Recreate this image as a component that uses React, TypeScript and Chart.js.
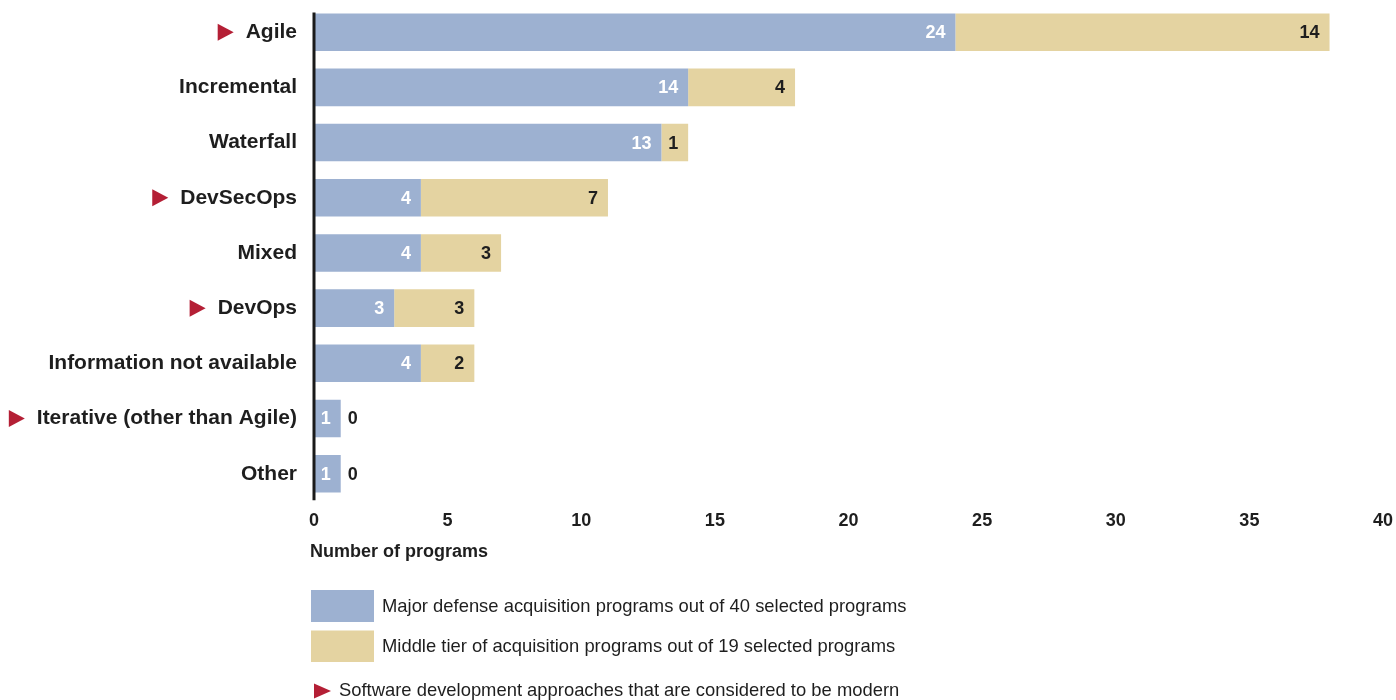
import { useEffect, useRef } from "react";
import { Chart, registerables } from "chart.js";

Chart.register(...registerables);

const categories = [
  "Agile",
  "Incremental",
  "Waterfall",
  "DevSecOps",
  "Mixed",
  "DevOps",
  "Information not available",
  "Iterative (other than Agile)",
  "Other",
];
const modernFlags = [true, false, false, true, false, true, false, true, false];
const majorValues = [24, 14, 13, 4, 4, 3, 4, 1, 1];
const middleValues = [14, 4, 1, 7, 3, 3, 2, 0, 0];
const xTickValues = [0, 5, 10, 15, 20, 25, 30, 35, 40];
const seriesLabels = [
  "Major defense acquisition programs out of 40 selected programs",
  "Middle tier of acquisition programs out of 19 selected programs",
];
const axisTitle = "Number of programs";
const footnoteText = "Software development approaches that are considered to be modern";

const BLUE = "#9db1d1";
const TAN = "#e4d3a1";
const RED = "#b41f35";
const TEXT = "#1e1e1e";
const FONT = "'Liberation Sans', Arial, Helvetica, sans-serif";

function triangle(ctx: CanvasRenderingContext2D, right: number, cy: number, w: number, h: number) {
  ctx.beginPath();
  ctx.moveTo(right - w, cy - h / 2);
  ctx.lineTo(right, cy);
  ctx.lineTo(right - w, cy + h / 2);
  ctx.closePath();
  ctx.fillStyle = RED;
  ctx.fill();
}

const decorPlugin = {
  id: "decor",
  afterDatasetsDraw(chart: any) {
    const ctx: CanvasRenderingContext2D = chart.ctx;
    const area = chart.chartArea;
    const yScale = chart.scales.y;
    ctx.save();

    // vertical axis line
    const m0 = chart.getDatasetMeta(0);
    const firstBar: any = m0.data[0];
    const topY = firstBar.y - firstBar.height / 2 - 1;
    ctx.beginPath();
    ctx.strokeStyle = "#1a1a1a";
    ctx.lineWidth = 3;
    ctx.moveTo(area.left, topY);
    ctx.lineTo(area.left, area.bottom - 1);
    ctx.stroke();

    // data labels
    ctx.font = `bold 18px ${FONT}`;
    ctx.textBaseline = "middle";
    chart.data.datasets.forEach((ds: any, di: number) => {
      const meta = chart.getDatasetMeta(di);
      meta.data.forEach((el: any, i: number) => {
        const v = ds.data[i];
        if (v > 0) {
          ctx.textAlign = "right";
          ctx.fillStyle = di === 0 ? "#ffffff" : TEXT;
          ctx.fillText(String(v), el.x - 10, el.y + 1);
        } else {
          ctx.textAlign = "left";
          ctx.fillStyle = TEXT;
          ctx.fillText(String(v), el.x + 7, el.y + 1);
        }
      });
    });

    // modern triangles beside category labels
    ctx.font = `bold 21px ${FONT}`;
    categories.forEach((c, i) => {
      if (!modernFlags[i]) return;
      const w = ctx.measureText(c).width;
      const cy = yScale.getPixelForValue(i);
      const labelLeft = area.left - 17 - w;
      triangle(ctx, labelLeft - 12, cy, 16, 17);
    });

    // axis title
    ctx.font = `bold 18px ${FONT}`;
    ctx.textAlign = "left";
    ctx.textBaseline = "alphabetic";
    ctx.fillStyle = TEXT;
    ctx.fillText(axisTitle, area.left - 4, 557);

    // legend
    const colors = [BLUE, TAN];
    const rects = [
      [311, 590, 63, 32],
      [311, 630.5, 63, 31.5],
    ];
    ctx.font = `18.4px ${FONT}`;
    ctx.textBaseline = "middle";
    seriesLabels.forEach((lab, i) => {
      const [x, y, w, h] = rects[i];
      ctx.fillStyle = colors[i];
      ctx.fillRect(x, y, w, h);
      ctx.fillStyle = TEXT;
      ctx.fillText(lab, 382, y + h / 2 + 1);
    });

    // footnote
    triangle(ctx, 331, 691, 17, 15);
    ctx.fillStyle = TEXT;
    ctx.fillText(footnoteText, 339, 691);

    ctx.restore();
  },
};

export default function App() {
  const canvasRef = useRef<HTMLCanvasElement | null>(null);

  useEffect(() => {
    if (!canvasRef.current) return;
    const chart = new Chart(canvasRef.current, {
      type: "bar",
      data: {
        labels: categories,
        datasets: [
          {
            label: seriesLabels[0],
            data: majorValues,
            backgroundColor: BLUE,
            borderWidth: 0,
            categoryPercentage: 1,
            barPercentage: 0.68,
          },
          {
            label: seriesLabels[1],
            data: middleValues,
            backgroundColor: TAN,
            borderWidth: 0,
            categoryPercentage: 1,
            barPercentage: 0.68,
          },
        ],
      },
      options: {
        indexAxis: "y",
        responsive: false,
        animation: false,
        devicePixelRatio: 1,
        layout: { padding: { top: 4.6, right: 13, left: 0, bottom: 0 } },
        plugins: {
          legend: { display: false },
          tooltip: { enabled: false },
        },
        scales: {
          x: {
            type: "linear",
            stacked: true,
            min: 0,
            max: 40,
            afterBuildTicks: (scale: any) => {
              scale.ticks = xTickValues.map((v) => ({ value: v }));
            },
            afterFit: (scale: any) => {
              scale.height = 198.7;
              scale.paddingLeft = 0;
              scale.paddingRight = 0;
              scale.paddingTop = 0;
              scale.paddingBottom = 0;
            },
            grid: { display: false, drawTicks: false },
            border: { display: false },
            ticks: {
              padding: 9,
              color: TEXT,
              font: { family: FONT, size: 18, weight: "bold" },
            },
          },
          y: {
            stacked: true,
            afterFit: (scale: any) => {
              scale.width = 314;
              scale.paddingTop = 0;
              scale.paddingBottom = 0;
              scale.paddingLeft = 0;
              scale.paddingRight = 0;
            },
            grid: { display: false, drawTicks: false },
            border: { display: false },
            ticks: {
              padding: 17,
              color: TEXT,
              font: { family: FONT, size: 21, weight: "bold" },
            },
          },
        },
      },
      plugins: [decorPlugin],
    } as any);
    return () => chart.destroy();
  }, []);

  return (
    <div style={{ position: "fixed", left: 0, top: 0, width: 1396, height: 700, background: "#fff" }}>
      <canvas ref={canvasRef} width={1396} height={700} style={{ display: "block" }} />
    </div>
  );
}
